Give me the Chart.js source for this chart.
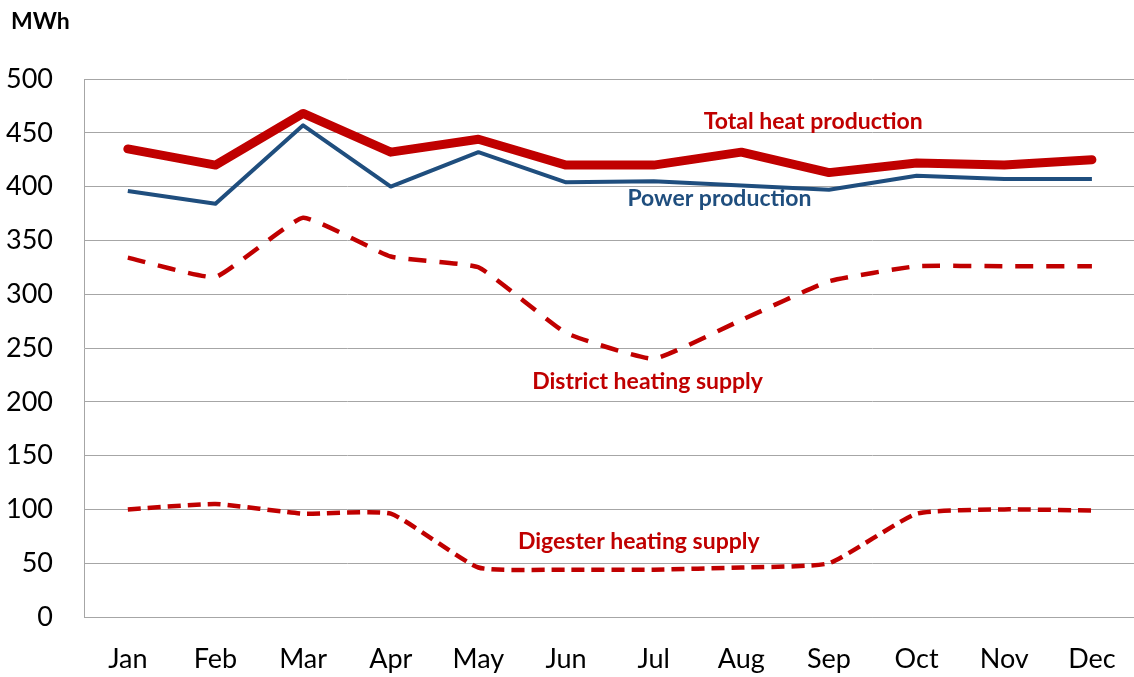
<!DOCTYPE html>
<html>
<head>
<meta charset="utf-8">
<script src="https://cdn.jsdelivr.net/npm/chart.js@4/dist/chart.umd.min.js"></script>
<style>
  html, body { margin: 0; padding: 0; background: #fff; }
  #chart { display: block; }
</style>
</head>
<body>
<canvas id="chart" width="1134" height="677"></canvas>
<script>
// months on the x axis
const months = ['Jan', 'Feb', 'Mar', 'Apr', 'May', 'Jun', 'Jul', 'Aug', 'Sep', 'Oct', 'Nov', 'Dec'];

// series values (MWh)
const totalHeat = [435, 420, 468, 432, 444, 420, 420, 432, 413, 422, 420, 425];
const powerProduction = [396, 384, 457, 400, 432, 404, 405, 401, 397, 410, 407, 407];
const districtHeating = [334, 316, 371, 335, 325, 264, 240, 276, 312, 326, 326, 326];
const digesterHeating = [100, 105, 96, 96, 46, 44, 44, 46, 50, 96, 100, 99];

// y axis ticks
const yTicks = [0, 50, 100, 150, 200, 250, 300, 350, 400, 450, 500];

const RED = '#C00000';
const BLUE = '#1F4E7E';
const FONT = 'Lato, "Open Sans", sans-serif';

// the plot runs a little past the right edge of the picture
const stretchRight = {
  id: 'stretchRight',
  afterLayout(chart) {
    const x = chart.scales.x;
    x.right += 8;
    x.width += 8;
    chart.chartArea.right += 8;
    chart.chartArea.width += 8;
    x.configure();
  }
};

// in-chart series labels + the unit label top left
const textLabels = {
  id: 'textLabels',
  afterDraw(chart) {
    const ctx = chart.ctx;
    const x = chart.scales.x;
    const y = chart.scales.y;
    const at = (i) => x.getPixelForValue(0) + i * (x.getPixelForValue(1) - x.getPixelForValue(0));
    ctx.save();
    ctx.textAlign = 'center';
    ctx.textBaseline = 'middle';
    ctx.font = 'bold 23px ' + FONT;
    ctx.fillStyle = RED;
    ctx.fillText('Total heat production', at(7.82), y.getPixelForValue(460));
    ctx.fillText('District heating supply', at(5.93), y.getPixelForValue(219));
    ctx.fillText('Digester heating supply', at(5.83), y.getPixelForValue(70));
    ctx.fillStyle = BLUE;
    ctx.fillText('Power production', at(6.75), y.getPixelForValue(389));
    ctx.fillStyle = '#000';
    ctx.textAlign = 'left';
    ctx.font = 'bold 23px ' + FONT;
    ctx.fillText('MWh', 11, 22);
    ctx.restore();
  }
};

new Chart(document.getElementById('chart').getContext('2d'), {
  type: 'line',
  data: {
    labels: months,
    datasets: [
      {
        label: 'Total heat production',
        data: totalHeat,
        borderColor: RED,
        borderWidth: 9,
        borderCapStyle: 'round',
        borderJoinStyle: 'round',
        pointRadius: 0,
        tension: 0,
      },
      {
        label: 'Power production',
        data: powerProduction,
        borderColor: BLUE,
        borderWidth: 4,
        borderJoinStyle: 'round',
        pointRadius: 0,
        tension: 0,
      },
      {
        label: 'District heating supply',
        data: districtHeating,
        borderColor: RED,
        borderWidth: 4.5,
        borderDash: [18, 13],
        borderJoinStyle: 'round',
        pointRadius: 0,
        tension: 0.12,
      },
      {
        label: 'Digester heating supply',
        data: digesterHeating,
        borderColor: RED,
        borderWidth: 4.5,
        borderDash: [13, 7],
        borderJoinStyle: 'round',
        pointRadius: 0,
        tension: 0.15,
      },
    ],
  },
  options: {
    responsive: false,
    animation: false,
    layout: { padding: { top: 79, right: 0, left: 0, bottom: 0 } },
    plugins: {
      legend: { display: false },
      tooltip: { enabled: false },
    },
    scales: {
      x: {
        offset: true,
        grid: { display: false, drawTicks: false },
        border: { display: true, color: '#A6A6A6', width: 1 },
        ticks: {
          color: '#000',
          font: { family: FONT, size: 27 },
          padding: 26,
          maxRotation: 0,
          autoSkip: false,
        },
        afterFit(scale) { scale.height = 60; },
      },
      y: {
        min: 0,
        max: 500,
        afterBuildTicks(scale) { scale.ticks = yTicks.map(v => ({ value: v })); },
        grid: { color: '#A6A6A6', lineWidth: 1, drawTicks: false },
        border: { display: true, color: '#A6A6A6', width: 1 },
        ticks: {
          color: '#000',
          font: { family: FONT, size: 27 },
          padding: 31,
        },
        afterFit(scale) { scale.width = 84; },
      },
    },
  },
  plugins: [stretchRight, textLabels],
});
</script>
</body>
</html>
